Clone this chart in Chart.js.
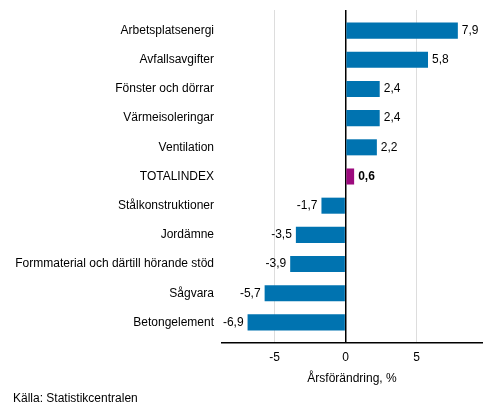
<!DOCTYPE html>
<html><head><meta charset="utf-8">
<script src="https://cdn.jsdelivr.net/npm/chart.js@4"></script>
<style>html,body{margin:0;padding:0;background:#fff}#w{width:493px;height:416px;position:relative}</style>
</head><body><div id="w"><canvas id="c"></canvas></div>
<script>
const categories = ["Arbetsplatsenergi","Avfallsavgifter","Fönster och dörrar","Värmeisoleringar","Ventilation","TOTALINDEX","Stålkonstruktioner","Jordämne","Formmaterial och därtill hörande stöd","Sågvara","Betongelement"];
const values = [7.9,5.8,2.4,2.4,2.2,0.6,-1.7,-3.5,-3.9,-5.7,-6.9];
const xTicks = [-5,0,5];
const axisTitle = "Årsförändring, %";
const source = "Källa: Statistikcentralen";
const totalLabel = "TOTALINDEX";
const FONT = "'Liberation Sans', Arial, sans-serif";

const colors = categories.map(c => c === totalLabel ? "#9c0a7d" : "#0073b0");
const points = values.map((v, i) => ({ x: v, y: i }));

const labelPlugin = {
  id: "labels",
  afterDatasetsDraw(chart) {
    const ctx = chart.ctx;
    const meta = chart.getDatasetMeta(0);
    ctx.save();
    ctx.fillStyle = "#000";
    ctx.textBaseline = "middle";
    meta.data.forEach((bar, i) => {
      const v = values[i];
      const bold = categories[i] === totalLabel;
      ctx.font = (bold ? "bold " : "") + "12px " + FONT;
      const txt = v.toFixed(1).replace(".", ",");
      if (v >= 0) { ctx.textAlign = "left"; ctx.fillText(txt, bar.x + 4, bar.y); }
      else { ctx.textAlign = "right"; ctx.fillText(txt, bar.x - 4, bar.y); }
    });
    ctx.textAlign = "left";
    ctx.font = "12px " + FONT;
    ctx.fillText(source, 13, 399);
    ctx.restore();
  }
};

new Chart(document.getElementById("c"), {
  type: "bar",
  data: { datasets: [{ data: points, backgroundColor: colors, borderWidth: 0, barPercentage: 0.55, categoryPercentage: 1 }] },
  options: {
    indexAxis: "y",
    responsive: true, maintainAspectRatio: false, animation: false,
    layout: { padding: { top: 10, right: 11, bottom: 30, left: 0 } },
    plugins: { legend: { display: false }, tooltip: { enabled: false } },
    scales: {
      x: {
        type: "linear",
        min: -8.7, max: 9.6,
        ticks: { includeBounds: false, color: "#000", font: { family: FONT, size: 12 }, padding: 7 },
        afterBuildTicks(s) { s.ticks = xTicks.map(v => ({ value: v })); },
        grid: { color: ctx => (ctx.tick && ctx.tick.value === 0) ? "#000" : "#dddddd", lineWidth: ctx => (ctx.tick && ctx.tick.value === 0) ? 1.5 : 1, drawTicks: false },
        border: { display: true, color: "#000", width: 1.5 },
        title: { display: true, text: axisTitle, color: "#000", font: { family: FONT, size: 12 }, padding: { top: 4, bottom: 0 } },
        afterFit(s) { s.height = 43; s.paddingLeft = 0; s.paddingRight = 0; }
      },
      y: {
        type: "linear",
        reverse: true,
        offset: false,
        min: -0.706, max: categories.length - 1 + 0.706,
        afterBuildTicks(s) { s.ticks = categories.map((c, i) => ({ value: i })); },
        ticks: { autoSkip: false, color: "#000", font: { family: FONT, size: 12 }, padding: 8, callback: v => categories[v] },
        grid: { display: false, drawTicks: false, offset: false },
        border: { display: false },
        afterFit(s) { s.width = 222; s.paddingTop = 0; s.paddingBottom = 0; }
      }
    }
  },
  plugins: [labelPlugin]
});
</script></body></html>
